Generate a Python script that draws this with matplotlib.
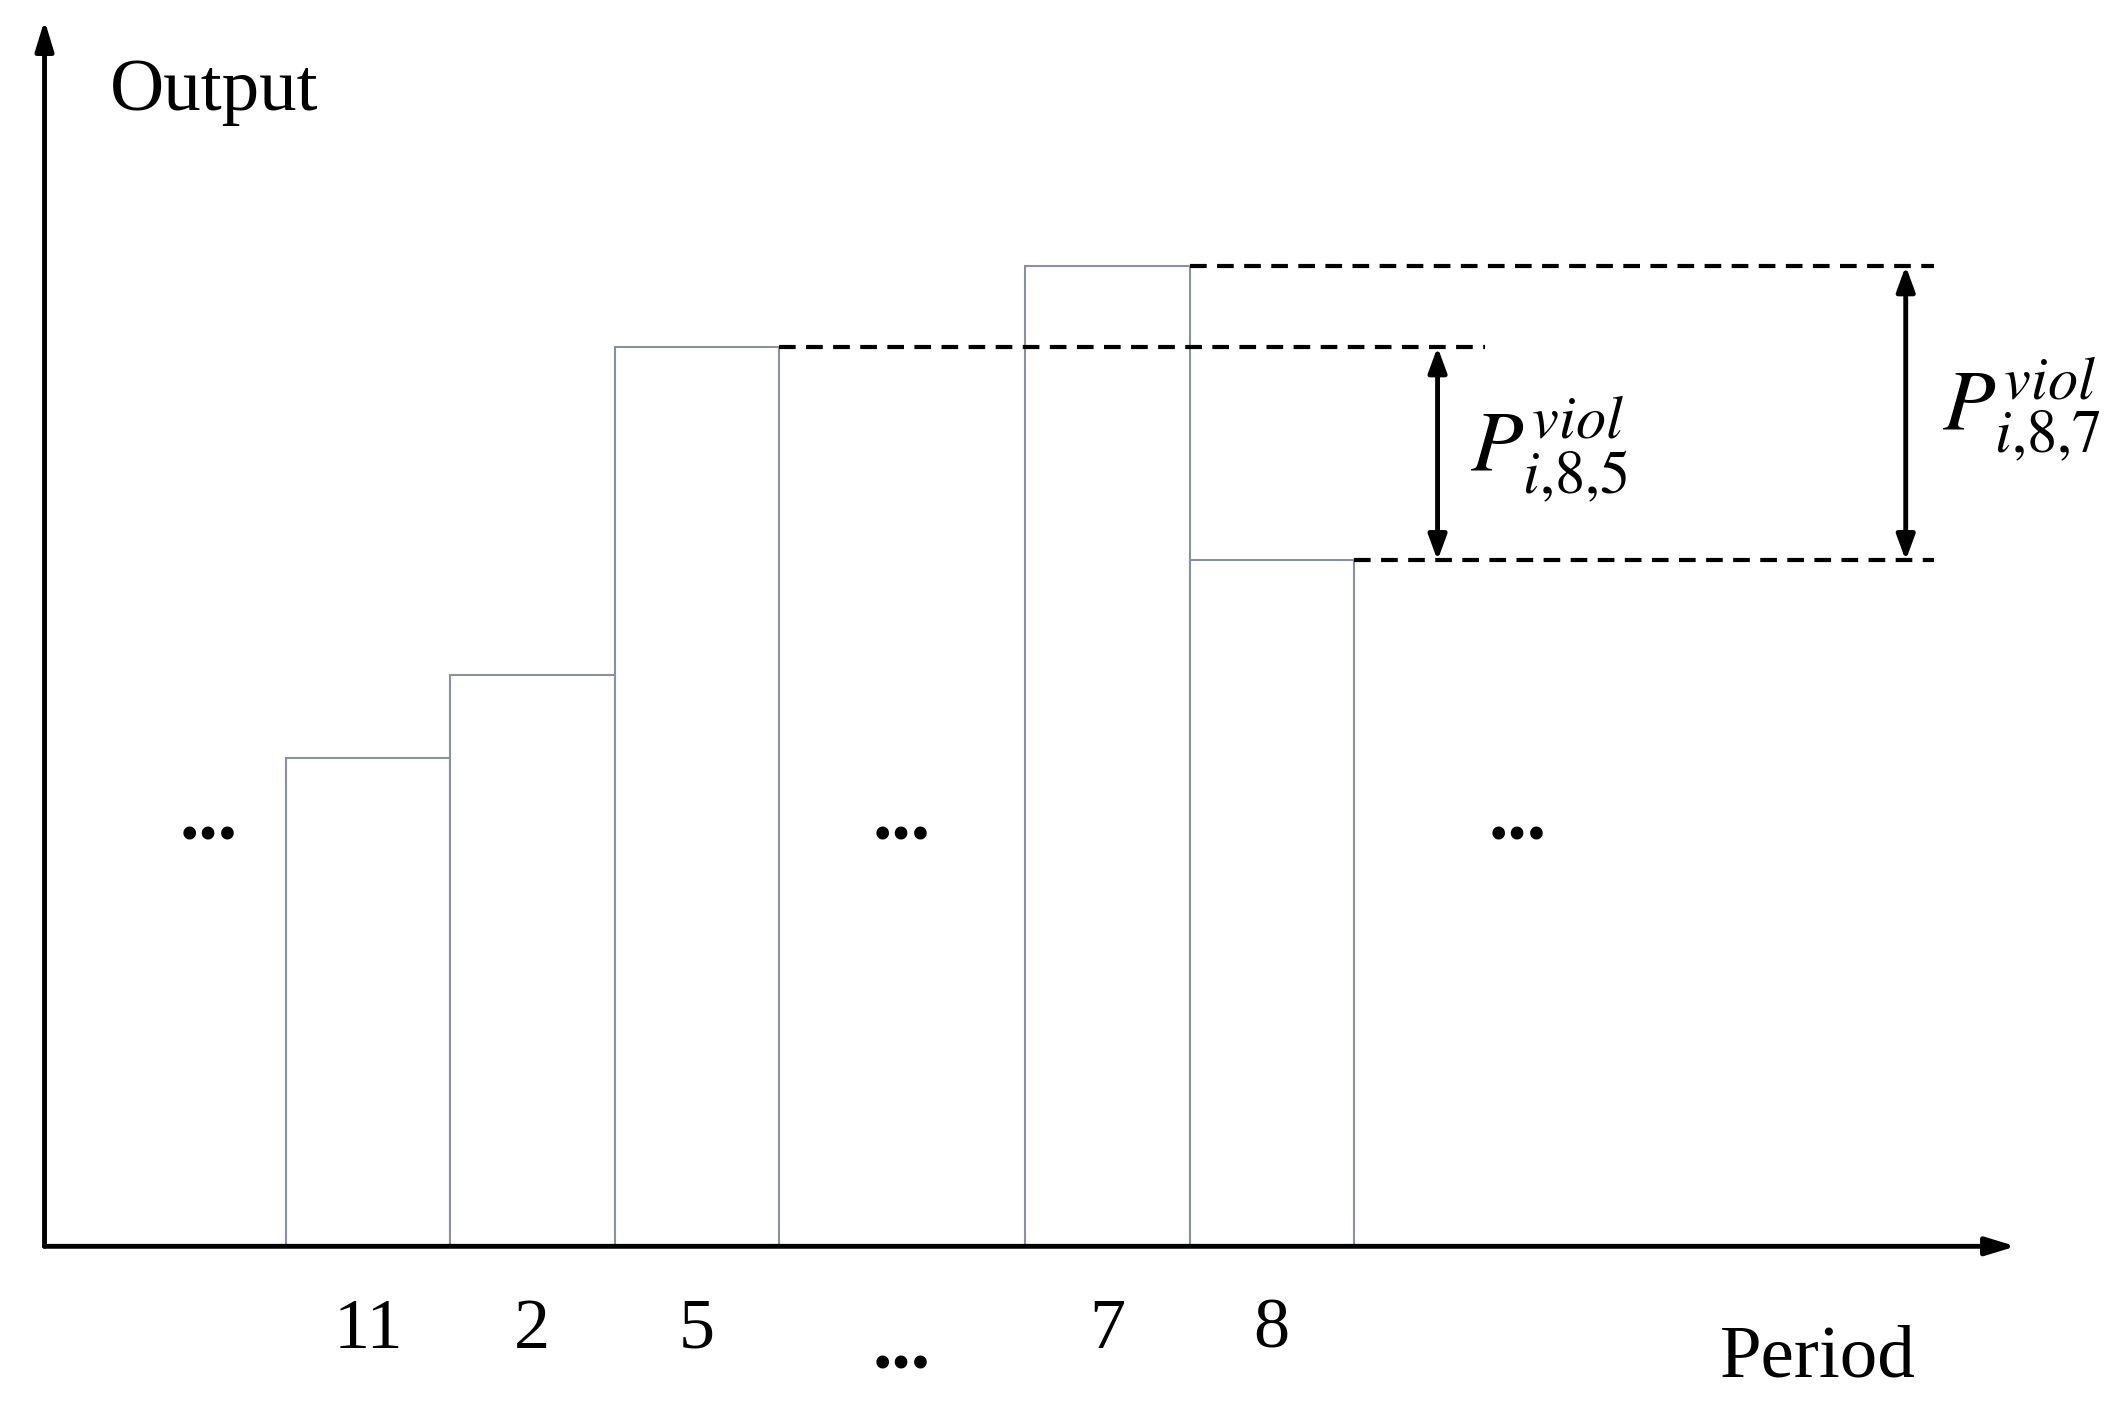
import matplotlib
matplotlib.use("Agg")
import matplotlib.pyplot as plt

plt.rcParams['font.family'] = ['Liberation Serif', 'DejaVu Serif']
plt.rcParams['mathtext.fontset'] = 'stix'

positions = [1.97, 2.97, 3.97, 6.47, 7.47]
heights = [3.62, 4.23, 6.66, 7.26, 5.08]
tick_labels = ["11", "2", "5", "7", "8"]

fig = plt.figure(figsize=(21.16, 14.07), dpi=100)
ax = fig.add_axes([0, 0, 1, 1])
ax.set_xlim(-0.271, 12.61)
ax.set_ylim(-1.19, 9.23)
ax.axis('off')

ax.bar(positions, heights, width=1.0, facecolor='white', edgecolor='#8a90a0', linewidth=1.5, zorder=2)

# axes arrows
ak = dict(arrowstyle='-|>,head_length=1.8,head_width=0.55', color='black', lw=3.5, shrinkA=0, shrinkB=0)
ax.annotate('', xy=(12.0, 0), xytext=(0, 0), arrowprops=ak)
ax.annotate('', xy=(0, 9.08), xytext=(0, 0), arrowprops=ak)

for p, l in zip(positions, tick_labels):
    ax.text(p, -0.62, l, ha='center', va='center', fontsize=52)
ax.text(0.4, 8.55, 'Output', ha='left', va='center', fontsize=54)
ax.text(10.2, -0.83, 'Period', ha='left', va='center', fontsize=54)

for x, y in [(1.0, 3.15), (5.22, 3.15), (8.97, 3.15), (5.22, -0.77)]:
    ax.text(x, y, '...', ha='center', va='center', fontsize=56, fontweight='bold')

# dashed reference lines
h5, h7, h8 = heights[2], heights[3], heights[4]
dk = dict(color='black', lw=3, linestyle=(0, (4, 2.5)))
ax.plot([4.47, 8.77], [h5, h5], **dk)
ax.plot([6.97, 11.5], [h7, h7], **dk)
ax.plot([7.97, 11.5], [h8, h8], **dk)

dak = dict(arrowstyle='<|-|>,head_length=1.5,head_width=0.55', color='black', lw=3.5, shrinkA=0, shrinkB=0)
ax.annotate('', xy=(8.48, h5), xytext=(8.48, h8), arrowprops=dak)
ax.annotate('', xy=(11.33, h7), xytext=(11.33, h8), arrowprops=dak)

ax.text(8.68, 5.9, r'$P_{i{,}8{,}5}^{viol}$', ha='left', va='center', fontsize=62)
ax.text(11.55, 6.2, r'$P_{i{,}8{,}7}^{viol}$', ha='left', va='center', fontsize=62)

fig.savefig('out.png', dpi=100)
